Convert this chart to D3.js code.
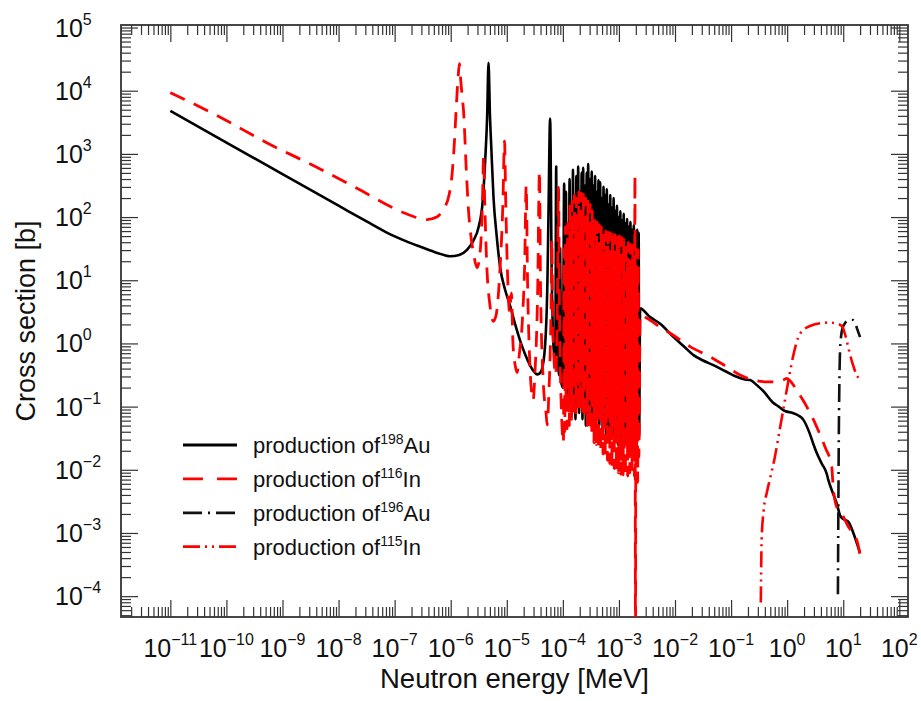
<!DOCTYPE html>
<html><head><meta charset="utf-8">
<script src="https://cdn.jsdelivr.net/npm/d3@7/dist/d3.min.js"></script>
<style>
body{margin:0;background:#fff}
text{font-family:"Liberation Sans",Arial,Helvetica,sans-serif;fill:#111}
</style>
</head><body>
<svg id="c" width="921" height="701"></svg>
<script>
// ---------------- DATA (log10 E [MeV], log10 sigma [b]) ----------------
const xTickExps = [-11,-10,-9,-8,-7,-6,-5,-4,-3,-2,-1,0,1,2];
const yTickExps = [-4,-3,-2,-1,0,1,2,3,4,5];
const xTitle = "Neutron energy [MeV]";
const yTitle = "Cross section [b]";

const legendNames = [
  {pre:"production of", iso:"198", el:"Au"},
  {pre:"production of", iso:"116", el:"In"},
  {pre:"production of", iso:"196", el:"Au"},
  {pre:"production of", iso:"115", el:"In"}
];

// production of 198Au
const au198 = [
[-11.0,3.68],[-10,3.18],[-9,2.68],[-8,2.18],[-7.5,1.93],[-7.14,1.755],[-6.8,1.62],[-6.54,1.53],[-6.3,1.45],[-6.12,1.4],[-6.01,1.38],[-5.85,1.4],[-5.71,1.48],[-5.6,1.62],[-5.5,1.85],[-5.43,2.25],[-5.385,2.9],[-5.35,3.6],[-5.326,4.44],[-5.30,3.6],[-5.278,3.14],[-5.237,2.31],[-5.18,1.7],[-5.118,1.2],[-5.03,0.85],[-4.939,0.59],[-4.85,0.3],[-4.761,0.04],[-4.67,-0.18],[-4.583,-0.35],[-4.52,-0.44],[-4.463,-0.49],[-4.42,-0.48],[-4.374,-0.41],[-4.316,-0.02],[-4.275,1.0],[-4.257,2.03],[-4.227,3.56],[-4.20,1.2],[-4.17,0.0],[-4.135,-0.3],[-4.119,2.8],[-4.10,0.2],[-4.07,-0.5],[-4.048,1.5],[-4.03,-0.6],[-4.0,-0.7],[-3.977,2.53],[-3.96,-0.6],
[-3.945,2.4],[-3.93,-0.9],[-3.915,1.8],[-3.90,-1.0],[-3.88,2.6],[-3.865,-0.8],[-3.85,2.2],[-3.835,-1.1],[-3.82,2.75],[-3.805,-0.9],[-3.79,2.3],[-3.775,-1.2],[-3.76,2.65],[-3.745,-1.0],[-3.727,2.8],[-3.71,-1.1],[-3.695,2.4],[-3.68,-0.9],[-3.665,2.7],[-3.65,-1.2],[-3.638,2.78],[-3.62,-1.0],[-3.605,2.5],[-3.59,-1.3],[-3.575,2.7],[-3.56,-1.1],[-3.549,2.84],[-3.53,-1.2],[-3.515,2.6],[-3.50,-1.0],[-3.485,2.72],[-3.47,-1.3],[-3.455,2.5],[-3.44,-1.2],[-3.425,2.65],[-3.41,-1.4],[-3.395,2.4],[-3.38,-1.1],[-3.365,2.58],[-3.35,-1.3],[-3.335,2.55],[-3.32,-1.2],[-3.305,2.3],[-3.29,-1.4],[-3.275,2.48],[-3.26,-1.3],[-3.245,2.35],[-3.23,-1.5],[-3.216,2.44],[-3.20,-1.3],[-3.185,2.2],[-3.17,-1.4],[-3.155,2.35],[-3.14,-1.5],[-3.125,2.15],[-3.11,-1.3],[-3.095,2.3],[-3.08,-1.5],[-3.065,2.1],[-3.05,-1.4],[-3.035,2.18],[-3.02,-1.6],[-3.005,2.0],[-2.99,-1.4],[-2.975,2.09],[-2.96,-1.5],[-2.945,1.95],[-2.93,-1.6],[-2.915,2.05],[-2.90,-1.4],[-2.885,1.9],[-2.87,-1.6],[-2.855,1.97],[-2.84,-1.5],[-2.825,1.85],[-2.81,-1.6],[-2.795,1.92],[-2.78,-1.5],[-2.765,1.8],[-2.75,-1.6],[-2.735,1.87],[-2.72,-1.5],[-2.705,1.78],[-2.69,-1.6],[-2.675,1.8],[-2.66,-1.5],[-2.648,1.75],[-2.64,-1.48],
[-2.622,0.555],[-2.45,0.42],[-2.27,0.317],[-2.03,0.105],[-1.85,-0.04],[-1.67,-0.185],[-1.5,-0.27],[-1.315,-0.343],[-1.1,-0.44],[-0.9,-0.528],[-0.75,-0.57],[-0.66,-0.58],[-0.54,-0.66],[-0.4,-0.78],[-0.26,-0.93],[-0.15,-1.0],[-0.04,-1.07],[0.1,-1.1],[0.2,-1.14],[0.29,-1.21],[0.4,-1.42],[0.47,-1.6],[0.53,-1.74],[0.616,-1.9],[0.705,-2.06],[0.734,-2.16],[0.82,-2.38],[0.884,-2.53],[0.943,-2.72],[1.0,-2.78],[1.09,-2.82],[1.18,-3.0],[1.25,-3.18],[1.30,-3.32]
];

// production of 116In
const in116 = [
[-11.0,3.97],[-10.11,3.58],[-9.29,3.18],[-8.46,2.82],[-7.68,2.46],[-6.87,2.08],[-6.6,1.99],[-6.42,1.96],[-6.25,2.0],[-6.14,2.11],[-6.03,2.35],[-5.98,2.64],[-5.94,3.1],[-5.90,3.75],[-5.865,4.25],[-5.845,4.43],[-5.82,4.15],[-5.795,3.9],[-5.772,3.69],[-5.72,2.7],[-5.683,2.11],[-5.64,1.7],[-5.594,1.43],[-5.53,1.2],[-5.47,1.5],[-5.435,2.2],[-5.413,2.97],[-5.395,2.3],[-5.36,1.3],[-5.30,0.6],[-5.24,0.35],[-5.19,0.45],[-5.12,1.2],[-5.07,2.2],[-5.04,3.2],[-5.02,2.3],[-4.99,1.2],[-4.95,0.5],[-4.917,0.8],[-4.89,0.0],[-4.85,-0.35],[-4.815,-0.46],[-4.78,-0.2],[-4.72,0.4],[-4.68,1.3],[-4.654,2.5],[-4.63,1.0],[-4.59,-0.3],[-4.545,-0.85],[-4.529,-0.9],[-4.50,-0.5],[-4.45,0.8],[-4.417,2.73],[-4.40,1.0],[-4.35,-0.6],[-4.30,-1.1],[-4.28,-1.29],[-4.25,-0.8],[-4.21,0.6],[-4.196,1.64],[-4.18,0.3],[-4.13,-0.5],[-4.10,0.4],[-4.078,2.47],[-4.06,0.5],[-4.02,-1.2],[-3.99,-1.57],
[-3.975,1.5],[-3.965,-1.4],[-3.955,1.85],[-3.945,-0.9],[-3.935,1.4],[-3.925,-1.35],[-3.915,1.9],[-3.905,-0.7],[-3.895,1.6],[-3.885,-1.3],[-3.875,2.2],[-3.865,-0.8],[-3.855,1.7],[-3.845,-1.2],[-3.835,2.25],[-3.825,-0.6],[-3.815,1.9],[-3.805,-1.15],[-3.795,2.35],[-3.785,-0.75],[-3.775,1.8],[-3.765,-1.1],[-3.755,2.3],[-3.745,-0.5],[-3.735,2.0],[-3.725,-1.07],[-3.715,2.4],[-3.705,-0.7],[-3.695,1.85],[-3.685,-1.05],[-3.675,2.38],[-3.665,-0.4],[-3.655,2.05],[-3.645,-1.1],[-3.635,2.36],[-3.625,-0.8],[-3.615,1.9],[-3.605,-1.2],[-3.595,2.3],[-3.585,-0.6],[-3.575,1.75],[-3.565,-1.3],[-3.555,2.25],[-3.545,-0.9],[-3.535,1.95],[-3.525,-1.35],[-3.515,2.2],[-3.505,-0.7],[-3.495,1.7],[-3.485,-1.45],[-3.475,2.1],[-3.465,-1.0],[-3.455,1.8],[-3.445,-1.57],[-3.435,2.0],[-3.425,-0.9],[-3.415,1.6],[-3.405,-1.6],[-3.395,1.92],[-3.385,-1.1],[-3.375,1.55],[-3.365,-1.65],[-3.355,1.88],[-3.345,-0.95],[-3.335,1.5],[-3.325,-1.7],[-3.315,1.85],[-3.305,-1.2],[-3.295,1.45],[-3.285,-1.75],[-3.275,1.81],[-3.265,-1.0],[-3.255,1.5],[-3.245,-1.8],[-3.235,1.78],[-3.225,-1.3],[-3.215,1.4],[-3.205,-1.85],[-3.195,1.76],[-3.185,-1.1],[-3.175,1.45],[-3.165,-1.9],[-3.155,1.75],[-3.145,-1.4],[-3.135,1.35],[-3.125,-1.95],[-3.115,1.73],[-3.105,-1.2],[-3.095,1.4],[-3.085,-1.98],[-3.075,1.72],[-3.065,-1.5],[-3.055,1.3],[-3.045,-2.02],[-3.035,1.71],[-3.025,-1.3],[-3.015,1.35],[-3.005,-2.05],[-2.995,1.7],[-2.985,-1.6],[-2.975,1.25],[-2.965,-2.07],[-2.955,1.68],[-2.945,-1.4],[-2.935,1.3],[-2.925,-2.08],[-2.915,1.65],[-2.905,-1.7],[-2.895,1.2],[-2.885,-2.1],[-2.875,1.62],[-2.865,-1.5],[-2.855,1.25],[-2.845,-2.1],[-2.835,1.6],[-2.825,-1.8],[-2.815,1.15],[-2.805,-2.05],[-2.795,1.57],[-2.785,-1.6],[-2.775,1.2],[-2.765,-2.0],[-2.755,1.55],[-2.745,-1.85],[-2.735,1.1],[-2.725,-2.1],[-2.715,2.66],[-2.705,-4.6],[-2.695,1.5],[-2.685,-1.9],[-2.675,1.2],[-2.665,-2.2],[-2.655,1.48],[-2.645,-1.8],
[-2.622,0.45],[-2.50,0.40],[-2.27,0.26],[-2.03,0.13],[-1.73,-0.05],[-1.375,-0.21],[-1.077,-0.37],[-0.84,-0.50],[-0.60,-0.58],[-0.364,-0.607],[-0.185,-0.607],[-0.05,-0.57],[-0.007,-0.553],[0.08,-0.62],[0.171,-0.74],[0.349,-1.0],[0.527,-1.32],[0.676,-1.64],[0.795,-1.95],[0.82,-2.27],[0.884,-2.59],[0.97,-2.69],[1.09,-2.90],[1.24,-3.11],[1.32,-3.43]
];

// production of 196Au
const au196 = [
[0.905,-3.97],[0.912,-2.8],[0.92,-1.6],[0.93,-0.7],[0.94,-0.2],[0.96,0.1],[0.99,0.25],[1.04,0.33],[1.1,0.37],[1.17,0.37],[1.22,0.3],[1.26,0.2],[1.30,0.1]
];

// production of 115In (metastable)
const in115 = [
[-0.47,-4.1],[-0.455,-3.1],[-0.42,-2.65],[-0.36,-2.35],[-0.30,-2.12],[-0.22,-1.8],[-0.13,-1.35],[-0.05,-0.95],[0.03,-0.55],[0.12,-0.15],[0.2,0.1],[0.3,0.22],[0.42,0.28],[0.6,0.32],[0.75,0.33],[0.9,0.31],[0.98,0.27],[1.04,0.12],[1.1,-0.1],[1.16,-0.3],[1.24,-0.5],[1.30,-0.58]
];

// ---------------- CHART ----------------
const L=121, R=908, T=25, B=617;
const svg = d3.select("#c");
const x = d3.scaleLog().domain([Math.pow(10,-11.88), Math.pow(10,2.155)]).range([L,R]);
const y = d3.scaleLog().domain([Math.pow(10,-4.33), Math.pow(10,5.04)]).range([B,T]);

const majX = xTickExps.map(e=>Math.pow(10,e));
const majY = yTickExps.map(e=>Math.pow(10,e));
const minX=[], minY=[];
for (let e=-12;e<=2;e++) for (let m=2;m<=9;m++){const v=m*Math.pow(10,e); if(v>x.domain()[0]&&v<x.domain()[1]) minX.push(v);}
for (let e=-5;e<=5;e++) for (let m=2;m<=9;m++){const v=m*Math.pow(10,e); if(v>y.domain()[0]&&v<y.domain()[1]) minY.push(v);}

function axisG(axis, tx, ty){
  const g = svg.append("g").attr("transform",`translate(${tx},${ty})`).call(axis);
  g.select(".domain").remove();
  g.selectAll("line").attr("stroke","#333").attr("stroke-width",1.2);
  g.selectAll("text").remove();
}
const MJ=17, MN=10;
axisG(d3.axisBottom(x).tickValues(majX).tickSizeInner(-MJ).tickSizeOuter(0),0,B);
axisG(d3.axisBottom(x).tickValues(minX).tickSizeInner(-MN).tickSizeOuter(0),0,B);
axisG(d3.axisTop(x).tickValues(majX).tickSizeInner(-MJ).tickSizeOuter(0),0,T);
axisG(d3.axisTop(x).tickValues(minX).tickSizeInner(-MN).tickSizeOuter(0),0,T);
axisG(d3.axisLeft(y).tickValues(majY).tickSizeInner(-MJ).tickSizeOuter(0),L,0);
axisG(d3.axisLeft(y).tickValues(minY).tickSizeInner(-MN).tickSizeOuter(0),L,0);
axisG(d3.axisRight(y).tickValues(majY).tickSizeInner(-MJ).tickSizeOuter(0),R,0);
axisG(d3.axisRight(y).tickValues(minY).tickSizeInner(-MN).tickSizeOuter(0),R,0);

svg.append("rect").attr("x",L).attr("y",T).attr("width",R-L).attr("height",B-T)
  .attr("fill","none").attr("stroke","#333").attr("stroke-width",1.8);

// tick labels
function supLabel(sel, e){
  sel.append("tspan").attr("font-size",25).text("10");
  sel.append("tspan").attr("font-size",16).attr("dy",-12).text(String(e).replace("-","\u2212"));
}
xTickExps.forEach(e=>{
  const t = svg.append("text").attr("x",x(Math.pow(10,e))).attr("y",657).attr("text-anchor","middle");
  supLabel(t,e);
});
yTickExps.forEach(e=>{
  const t = svg.append("text").attr("x",55).attr("y",y(Math.pow(10,e))+9).attr("text-anchor","start");
  supLabel(t,e);
});

svg.append("text").attr("x",(L+R)/2).attr("y",688).attr("text-anchor","middle").attr("font-size",27.5).text(xTitle);
svg.append("text").attr("transform",`translate(35,${(T+B)/2}) rotate(-90)`).attr("text-anchor","middle").attr("font-size",27).text(yTitle);

// curves
svg.append("defs").append("clipPath").attr("id","clip").append("rect")
  .attr("x",L).attr("y",T).attr("width",R-L).attr("height",B-T);
const line = d3.line().curve(d3.curveMonotoneX)
  .x(d=>x(Math.pow(10,d[0]))).y(d=>y(Math.pow(10,d[1])));
const RED = "#ff0000";
const styles = [
  {data:au198, color:"#000", dash:null, w:2.6},
  {data:in116, color:RED, dash:"16,10", w:2.8},
  {data:au196, color:"#111", dash:"18,6,2,6", w:2.6},
  {data:in115, color:RED, dash:"16,5,2,5,2,5", w:2.6}
];
const cg = svg.append("g").attr("clip-path","url(#clip)");
styles.forEach(s=>{
  cg.append("path").datum(s.data).attr("d",line).attr("fill","none")
    .attr("stroke",s.color).attr("stroke-width",s.w).attr("stroke-linejoin","round")
    .attr("stroke-dasharray",s.dash);
});

// legend
legendNames.forEach((n,i)=>{
  const ly = 445 + i*33.9;
  const s = styles[i];
  svg.append("line").attr("x1",183).attr("x2",237).attr("y1",ly).attr("y2",ly)
    .attr("stroke",s.color).attr("stroke-width",2.8).attr("stroke-dasharray",
      i===1?"20,14":(i===2?"19,6,2,6":(i===3?"17,5,2,5,2,5":null)));
  const t = svg.append("text").attr("x",253).attr("y",ly+8).attr("font-size",22);
  t.append("tspan").text(n.pre);
  t.append("tspan").attr("font-size",14).attr("dy",-9).text(n.iso);
  t.append("tspan").attr("dy",9).text(n.el);
});
</script>
</body></html>
